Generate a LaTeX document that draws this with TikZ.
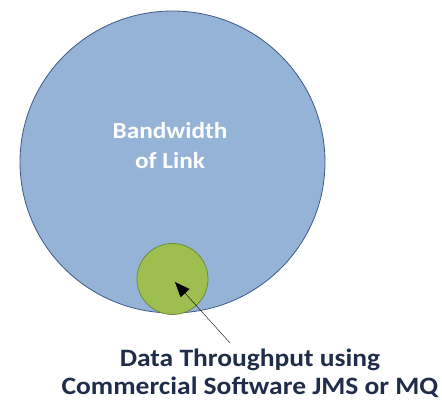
\documentclass[tikz,border=0pt]{standalone}
\usepackage{fontspec}
\setmainfont{Carlito}
\usetikzlibrary{arrows.meta}

\definecolor{linkblue}{HTML}{95B3D7}
\definecolor{linkedge}{HTML}{3F5A86}
\definecolor{dataGreen}{HTML}{9EBE50}
\definecolor{dataEdge}{HTML}{6E8C3C}
\definecolor{labelNavy}{HTML}{1F2D4A}

\tikzset{
  biglabel/.style={font=\bfseries\fontsize{23}{30}\selectfont, text=white, align=center, inner sep=0pt, xscale=1.1},
  baselabel/.style={font=\bfseries\fontsize{25}{28}\selectfont, text=labelNavy, align=center, inner sep=0pt, xscale=1.1}
}

\begin{document}
\begin{tikzpicture}[x=1pt,y=1pt]
    \useasboundingbox (0,0) rectangle (442,400);
    % the link and the part of it that is used
    \draw[linkedge, thick, fill=linkblue] (172.5,238) ellipse (152.5 and 151);
    \draw[dataEdge, thick, fill=dataGreen] (172.5,121) circle (35.5);
    \coordinate (thru) at (175,118);
    \node[biglabel] (link) at (170,254) {Bandwidth\\of Link};
    \node[baselabel, anchor=south] (data) at (250,2) {Data Throughput using\\Commercial Software JMS or MQ};
    \draw[-{Triangle[length=15pt,width=12pt]}, thin] ([xshift=-20pt,yshift=6pt]data.north) -- (thru);
  \end{tikzpicture}
\end{document}
